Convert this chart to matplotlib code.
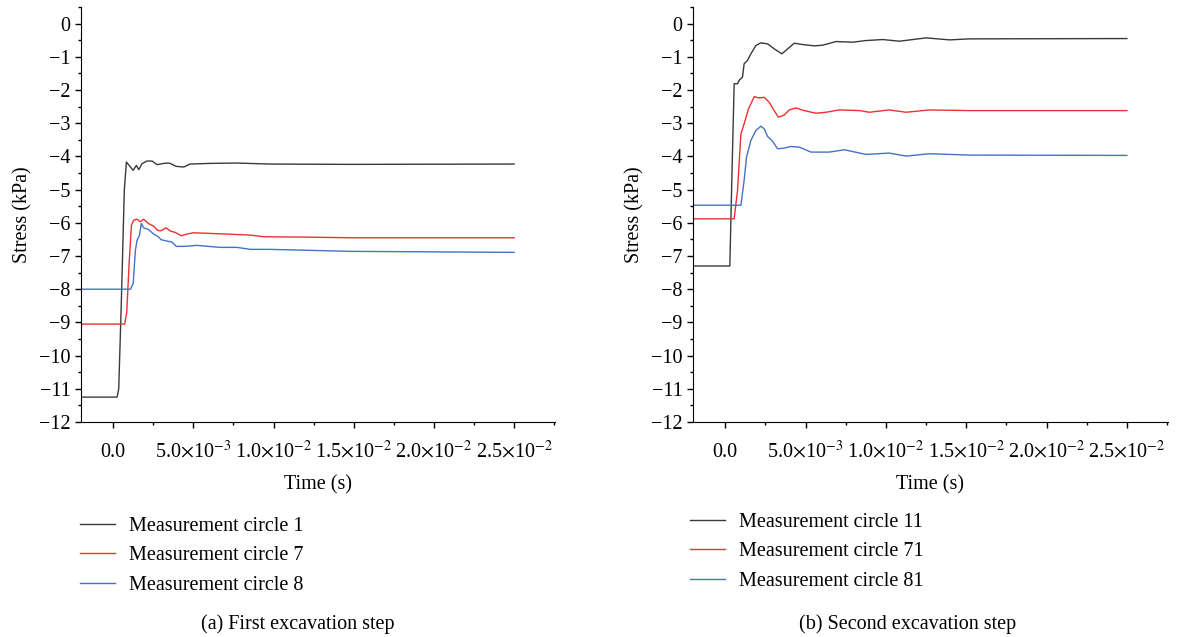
import matplotlib
matplotlib.use("Agg")
import matplotlib.pyplot as plt
from matplotlib.ticker import MultipleLocator, FixedLocator

plt.rcParams['font.family'] = ['Liberation Serif', 'DejaVu Serif']
plt.rcParams['mathtext.fontset'] = 'stix'
plt.rcParams['font.size'] = 14.5

# ---- data (time in s, stress in kPa) ----
# (a) first excavation step
t_c1 = [-2.0e-3, 0.25e-3, 0.35e-3, 0.5e-3, 0.7e-3, 0.83e-3, 1.08e-3, 1.25e-3, 1.45e-3, 1.6e-3,
        1.8e-3, 2.1e-3, 2.43e-3, 2.74e-3, 3.15e-3, 3.5e-3, 3.94e-3, 4.4e-3, 4.8e-3, 6.06e-3,
        7.7e-3, 9.8e-3, 14.8e-3, 25.0e-3]
s_c1 = [-11.25, -11.25, -11.0, -8.6, -5.0, -4.17, -4.32, -4.42, -4.27, -4.40,
        -4.22, -4.14, -4.14, -4.25, -4.21, -4.20, -4.30, -4.32, -4.23, -4.21,
        -4.20, -4.23, -4.24, -4.23]

t_c7 = [-2.0e-3, 0.72e-3, 0.85e-3, 1.0e-3, 1.14e-3, 1.28e-3, 1.49e-3, 1.7e-3, 1.9e-3, 2.2e-3,
        2.53e-3, 2.78e-3, 2.99e-3, 3.3e-3, 3.57e-3, 3.88e-3, 4.25e-3, 4.6e-3, 5.0e-3, 6.06e-3,
        7.1e-3, 8.55e-3, 9.4e-3, 11.85e-3, 14.8e-3, 25.0e-3]
s_c7 = [-9.05, -9.05, -8.7, -7.2, -6.08, -5.92, -5.89, -5.97, -5.89, -6.02,
        -6.10, -6.23, -6.24, -6.15, -6.25, -6.29, -6.39, -6.34, -6.30, -6.32,
        -6.34, -6.37, -6.42, -6.43, -6.45, -6.45]

t_c8 = [-2.0e-3, 1.08e-3, 1.25e-3, 1.39e-3, 1.49e-3, 1.64e-3, 1.76e-3, 1.9e-3, 2.2e-3, 2.51e-3,
        2.84e-3, 2.99e-3, 3.36e-3, 3.67e-3, 3.94e-3, 4.4e-3, 5.23e-3, 6.68e-3, 7.72e-3, 8.55e-3,
        9.8e-3, 14.8e-3, 25.0e-3]
s_c8 = [-8.0, -8.0, -7.83, -6.83, -6.53, -6.38, -6.02, -6.15, -6.20, -6.33,
        -6.43, -6.51, -6.55, -6.58, -6.71, -6.71, -6.68, -6.74, -6.74, -6.80,
        -6.80, -6.86, -6.89]

# (b) second excavation step
t_c11 = [-2.0e-3, 0.29e-3, 0.45e-3, 0.56e-3, 0.77e-3, 0.87e-3, 1.08e-3, 1.18e-3, 1.39e-3, 1.6e-3,
         1.91e-3, 2.22e-3, 2.64e-3, 3.05e-3, 3.53e-3, 3.89e-3, 4.3e-3, 4.82e-3, 5.55e-3, 6.07e-3,
         6.9e-3, 7.94e-3, 8.77e-3, 9.8e-3, 10.85e-3, 12.5e-3, 13.97e-3, 15.2e-3, 25.0e-3]
s_c11 = [-7.3, -7.3, -4.0, -1.81, -1.81, -1.71, -1.61, -1.21, -1.11, -0.91,
         -0.66, -0.58, -0.61, -0.76, -0.91, -0.76, -0.59, -0.63, -0.67, -0.65,
         -0.54, -0.56, -0.51, -0.48, -0.53, -0.43, -0.49, -0.46, -0.45]

t_c71 = [-2.0e-3, 0.56e-3, 0.77e-3, 0.98e-3, 1.18e-3, 1.45e-3, 1.81e-3, 2.12e-3, 2.43e-3, 2.74e-3,
         3.05e-3, 3.32e-3, 3.68e-3, 3.99e-3, 4.4e-3, 4.92e-3, 5.65e-3, 6.28e-3, 7.1e-3, 8.35e-3,
         8.98e-3, 10.2e-3, 11.26e-3, 12.7e-3, 15.2e-3, 25.0e-3]
s_c71 = [-5.88, -5.88, -5.02, -3.32, -3.02, -2.57, -2.20, -2.24, -2.22, -2.37,
         -2.62, -2.82, -2.75, -2.60, -2.54, -2.62, -2.70, -2.67, -2.60, -2.62,
         -2.67, -2.60, -2.67, -2.60, -2.62, -2.62]

t_c81 = [-2.0e-3, 0.98e-3, 1.18e-3, 1.33e-3, 1.6e-3, 1.91e-3, 2.22e-3, 2.43e-3, 2.64e-3, 2.95e-3,
         3.26e-3, 3.68e-3, 4.1e-3, 4.61e-3, 5.34e-3, 6.48e-3, 7.42e-3, 8.77e-3, 10.2e-3, 11.26e-3,
         12.7e-3, 15.2e-3, 25.0e-3]
s_c81 = [-5.47, -5.47, -4.72, -4.02, -3.52, -3.22, -3.09, -3.17, -3.40, -3.54,
         -3.77, -3.75, -3.70, -3.72, -3.87, -3.87, -3.80, -3.94, -3.90, -3.99,
         -3.92, -3.96, -3.97]

x_ticks = [0.0, 5e-3, 1e-2, 1.5e-2, 2e-2, 2.5e-2]
x_tick_labels = ['0.0', r'5.0$\times$10$^{-3}$', r'1.0$\times$10$^{-2}$',
                 r'1.5$\times$10$^{-2}$', r'2.0$\times$10$^{-2}$', r'2.5$\times$10$^{-2}$']

c_black = '#3a3a3a'
c_red = '#ee3030'
c_blue = '#4472c4'

fig = plt.figure(figsize=(12.04, 6.37), dpi=100)
ax1 = fig.add_axes([0.0673, 0.3375, 0.3937, 0.6515])
ax2 = fig.add_axes([0.5756, 0.3375, 0.3944, 0.6515])

panels = [
    (ax1, [(t_c1, s_c1, c_black, 'Measurement circle 1'),
           (t_c7, s_c7, c_red, 'Measurement circle 7'),
           (t_c8, s_c8, c_blue, 'Measurement circle 8')]),
    (ax2, [(t_c11, s_c11, c_black, 'Measurement circle 11'),
           (t_c71, s_c71, c_red, 'Measurement circle 71'),
           (t_c81, s_c81, c_blue, 'Measurement circle 81')]),
]

legend_pos = [(0.0664, 0.189), (0.573, 0.195)]
for (ax, series), lpos in zip(panels, legend_pos):
    for t, s, c, lab in series:
        ax.plot(t, s, color=c, lw=1.0, label=lab)
    ax.set_xlim(-2.0e-3, 2.755e-2)
    ax.set_ylim(-12, 0.5)
    ax.spines['top'].set_visible(False)
    ax.spines['right'].set_visible(False)
    ax.yaxis.set_major_locator(FixedLocator(list(range(-12, 1))))
    ax.yaxis.set_minor_locator(MultipleLocator(0.5))
    ax.xaxis.set_major_locator(FixedLocator(x_ticks))
    ax.set_xticklabels(x_tick_labels)
    ax.xaxis.set_minor_locator(MultipleLocator(2.5e-3))
    ax.tick_params(which='major', direction='out', length=4.5, width=1, labelsize=14.5)
    ax.tick_params(which='minor', direction='out', length=2.5, width=1)
    ax.tick_params(axis='x', pad=21)
    ax.tick_params(axis='y', pad=3)
    for lbl in ax.get_xticklabels():
        lbl.set_verticalalignment('baseline')
    ax.set_xlabel('Time (s)', fontsize=14.5, labelpad=9)
    ax.set_ylabel('Stress (kPa)', fontsize=14.5, labelpad=5)
    ax.legend(loc='upper left', bbox_to_anchor=lpos, bbox_transform=fig.transFigure,
              frameon=False, fontsize=14.5, handlelength=1.75, handletextpad=0.7,
              labelspacing=0.52, borderpad=0, borderaxespad=0)

fig.text(0.2475, 0.02, '(a) First excavation step', ha='center', va='center', fontsize=14.5)
fig.text(0.754, 0.02, '(b) Second excavation step', ha='center', va='center', fontsize=14.5)

fig.savefig('out.png', dpi=100)
